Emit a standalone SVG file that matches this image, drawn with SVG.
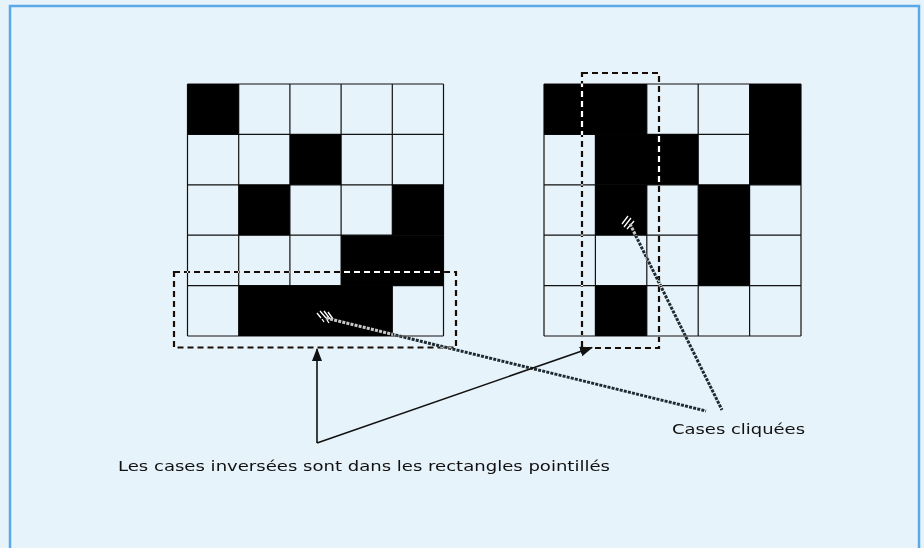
<svg xmlns="http://www.w3.org/2000/svg" width="924" height="548" viewBox="0 0 924 548">
<style>
.bg{fill:#e7f3fa}
.frame{fill:none;stroke:#5ba8e8;stroke-width:2.5}
.cell{fill:#000}
.grid{fill:none;stroke:#111;stroke-width:1.2}
.xor{mix-blend-mode:difference}
.dash{fill:none;stroke:#fff;stroke-width:2.2;stroke-dasharray:6 4}
.hatch{fill:none;stroke:#c8c8c8;stroke-width:3;stroke-dasharray:3 1.2}
.mark{stroke:#fff;stroke-width:1.3}
.arrow{fill:none;stroke:#111;stroke-width:1.6}
.lbl{font-family:"DejaVu Sans","Liberation Sans",sans-serif;font-size:14.6px;fill:#111}
</style>
<defs>
<marker id="ah" markerUnits="userSpaceOnUse" markerWidth="14" markerHeight="12" refX="12" refY="5" orient="auto">
<path d="M0,0 L13,5 L0,10 z" fill="#111"/>
</marker>
</defs>
<rect class="bg" x="0" y="0" width="924" height="548"/>
<rect class="frame" x="10" y="6" width="909" height="560"/>

<g id="grid-left">
<path class="grid" d="M187.5,84V336M238.7,84V336M289.9,84V336M341.1,84V336M392.3,84V336M443.5,84V336M187.5,84H443.5M187.5,134.4H443.5M187.5,184.8H443.5M187.5,235.2H443.5M187.5,285.6H443.5M187.5,336H443.5"/>
<rect class="cell" x="187.5" y="84" width="51.2" height="50.4"/>
<rect class="cell" x="289.9" y="134.4" width="51.2" height="50.4"/>
<rect class="cell" x="238.7" y="184.8" width="51.2" height="50.4"/>
<rect class="cell" x="392.3" y="184.8" width="51.2" height="50.4"/>
<rect class="cell" x="341.1" y="235.2" width="102.4" height="50.4"/>
<rect class="cell" x="238.7" y="285.6" width="153.6" height="50.4"/>
</g>

<g id="grid-right">
<path class="grid" d="M544,84V336M595.4,84V336M646.8,84V336M698.2,84V336M749.6,84V336M801,84V336M544,84H801M544,134.4H801M544,184.8H801M544,235.2H801M544,285.6H801M544,336H801"/>
<rect class="cell" x="544" y="84" width="102.8" height="50.4"/>
<rect class="cell" x="749.6" y="84" width="51.4" height="100.8"/>
<rect class="cell" x="595.4" y="134.4" width="102.8" height="50.4"/>
<rect class="cell" x="595.4" y="184.8" width="51.4" height="50.4"/>
<rect class="cell" x="698.2" y="184.8" width="51.4" height="100.8"/>
<rect class="cell" x="595.4" y="285.6" width="51.4" height="50.4"/>
</g>

<g id="dashed-left" class="xor">
<rect class="dash" x="174" y="272" width="282" height="75.5"/>
</g>
<g id="dashed-right" class="xor">
<rect class="dash" x="582" y="73" width="77" height="275"/>
</g>

<g id="connectors">
<g class="xor">
<path class="mark" d="M317,313L321,318M320,311L326,318M324,311L330,319M328,312L333,319M322,319L324,322M327,320L329,323"/>
<path class="mark" d="M622,224L628,216M624,227L631,218M627,229L634,221"/>
<path class="hatch" d="M326,318L706,411"/>
<path class="hatch" d="M630,224L722,410"/>
</g>
<path class="arrow" d="M317,443V349" marker-end="url(#ah)"/>
<path class="arrow" d="M317,443L592,347.5" marker-end="url(#ah)"/>
</g>

<g id="labels">
<text class="lbl" x="672" y="433.5" textLength="133" lengthAdjust="spacingAndGlyphs">Cases cliquées</text>
<text class="lbl" x="118" y="471" textLength="492" lengthAdjust="spacingAndGlyphs">Les cases inversées sont dans les rectangles pointillés</text>
</g>
</svg>
